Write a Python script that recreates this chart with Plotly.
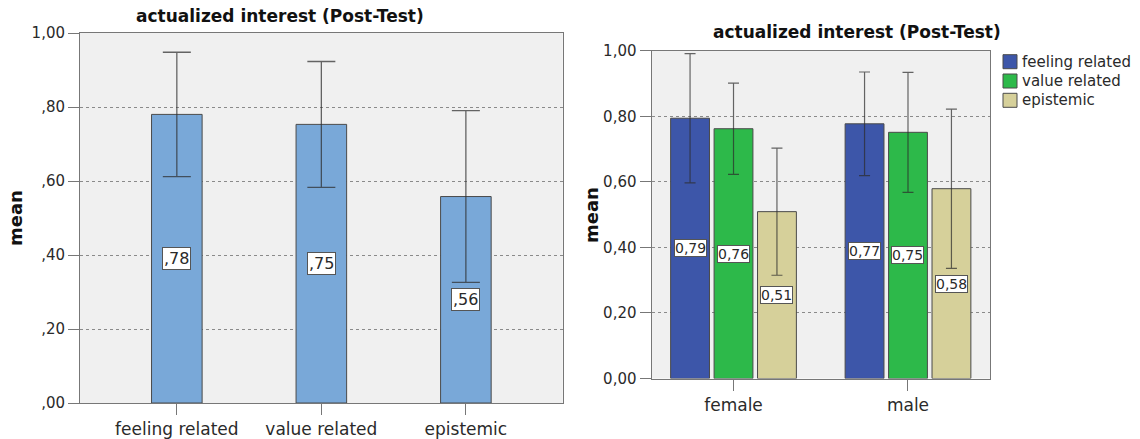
import plotly.graph_objects as go

W, H = 1140, 439

# ---------------- data ----------------
left_categories = ["feeling related", "value related", "epistemic"]
left_means = [0.78, 0.753, 0.558]
left_err = [0.168, 0.170, 0.232]
left_labels = [",78", ",75", ",56"]
left_ticktext = [",00", ",20", ",40", ",60", ",80", "1,00"]

right_groups = ["female", "male"]
right_series = ["feeling related", "value related", "epistemic"]
right_feeling = [0.794, 0.777]
right_value = [0.762, 0.751]
right_epistemic = [0.509, 0.579]
right_feeling_err = [0.197, 0.158]
right_value_err = [0.139, 0.183]
right_epistemic_err = [0.194, 0.243]
right_feeling_lbl = ["0,79", "0,77"]
right_value_lbl = ["0,76", "0,75"]
right_epistemic_lbl = ["0,51", "0,58"]
right_ticktext = ["0,00", "0,20", "0,40", "0,60", "0,80", "1,00"]
tickvals = [0, 0.2, 0.4, 0.6, 0.8, 1.0]

title_text = "actualized interest (Post-Test)"

# ---------------- style ----------------
FONT = "DejaVu Sans"
LEFT_COLOR = "#79A8D8"
SERIES_COLORS = ["#3D56A9", "#2DB94A", "#D6D09A"]
OUTLINE = "#4a4a4a"
ERR_COLOR = "rgba(45,45,45,0.72)"
BG = "#F0F0F0"
TEXT = "#2a2a2a"


def px(x):
    return x / W


def py(y):
    return 1 - y / H


fig = go.Figure()

fig.add_trace(go.Bar(
    x=left_categories, y=left_means, width=0.35,
    marker=dict(color=LEFT_COLOR, line=dict(color=OUTLINE, width=1)),
    error_y=dict(type="data", array=left_err, color=ERR_COLOR, thickness=1.3, width=14),
    xaxis="x", yaxis="y", showlegend=False, hoverinfo="skip",
))

right_vals = [right_feeling, right_value, right_epistemic]
right_errs = [right_feeling_err, right_value_err, right_epistemic_err]
right_lbls = [right_feeling_lbl, right_value_lbl, right_epistemic_lbl]
for name, vals, errs, col in zip(right_series, right_vals, right_errs, SERIES_COLORS):
    fig.add_trace(go.Bar(
        x=right_groups, y=vals, name=name,
        marker=dict(color=col, line=dict(color=OUTLINE, width=1)),
        error_y=dict(type="data", array=errs, color=ERR_COLOR, thickness=1.2, width=5.5),
        xaxis="x2", yaxis="y2", showlegend=False, hoverinfo="skip",
    ))

BARGAP = 0.253
GROUPGAP = 0.106
slot = (1 - BARGAP) / len(right_series)

annotations = []
# value labels (boxes at bar middle)
for i, (v, lbl) in enumerate(zip(left_means, left_labels)):
    annotations.append(dict(
        x=i, y=v / 2, xref="x", yref="y", text=lbl, showarrow=False,
        font=dict(family=FONT, size=16, color=TEXT),
        bgcolor="white", bordercolor="#555", borderwidth=1, borderpad=1,
    ))
for s, (vals, lbls) in enumerate(zip(right_vals, right_lbls)):
    for g, (v, lbl) in enumerate(zip(vals, lbls)):
        annotations.append(dict(
            x=g + (s - 1) * slot, y=v / 2, xref="x2", yref="y2", text=lbl,
            showarrow=False, font=dict(family=FONT, size=14, color=TEXT),
            bgcolor="white", bordercolor="#555", borderwidth=1, borderpad=0,
        ))

# titles
for cx, cy in [(279.5, 16), (856.8, 32)]:
    annotations.append(dict(
        x=px(cx), y=py(cy), xref="paper", yref="paper", text="<b>" + title_text + "</b>",
        showarrow=False, xanchor="center", yanchor="middle",
        font=dict(family=FONT, size=17, color="#111"),
    ))
for cx, cy in [(16, 218), (591, 215)]:
    annotations.append(dict(
        x=px(cx), y=py(cy), xref="paper", yref="paper", text="<b>mean</b>",
        showarrow=False, xanchor="center", yanchor="middle", textangle=-90,
        font=dict(family=FONT, size=18, color="#111"),
    ))

# manual legend
shapes = []
for k, (name, col) in enumerate(zip(right_series, SERIES_COLORS)):
    cy = 61.7 + k * 19.3
    shapes.append(dict(
        type="rect", xref="paper", yref="paper",
        x0=px(1003), x1=px(1017), y0=py(cy - 7), y1=py(cy + 7),
        fillcolor=col, line=dict(color=OUTLINE, width=1),
    ))
    annotations.append(dict(
        x=px(1019.5), y=py(cy), xref="paper", yref="paper", text=name,
        showarrow=False, xanchor="left", yanchor="middle",
        font=dict(family=FONT, size=15, color=TEXT),
    ))

axis_common = dict(showline=True, linecolor="#777", linewidth=1, mirror=True,
                   ticks="outside", tickcolor="#777", ticklen=11, zeroline=False,
                   fixedrange=True, automargin=False)

fig.update_layout(
    template="none",
    width=W, height=H,
    margin=dict(l=0, r=0, t=0, b=0, pad=0, autoexpand=False),
    paper_bgcolor="white",
    barmode="group", bargap=BARGAP, bargroupgap=GROUPGAP,
    font=dict(family=FONT, color=TEXT),
    showlegend=False,
    xaxis=dict(domain=[px(80), px(562.7)], anchor="y", range=[-0.67, 2.67],
               showgrid=False, tickfont=dict(size=17, color=TEXT), **axis_common),
    yaxis=dict(domain=[py(403), py(33)], anchor="x", range=[0, 1],
               tickvals=tickvals, ticktext=left_ticktext, tickfont=dict(size=15, color=TEXT),
               showgrid=True, gridcolor="#8a8a8a", griddash="3px,3px", gridwidth=1,
               **axis_common),
    xaxis2=dict(domain=[px(651.5), px(990)], anchor="y2", range=[-0.47, 1.47],
                showgrid=False, tickfont=dict(size=17, color=TEXT), **axis_common),
    yaxis2=dict(domain=[py(378.5), py(50.7)], anchor="x2", range=[0, 1],
                tickvals=tickvals, ticktext=right_ticktext, tickfont=dict(size=15, color=TEXT),
                showgrid=True, gridcolor="#8a8a8a", griddash="3px,3px", gridwidth=1,
                **axis_common),
    plot_bgcolor=BG,
    annotations=annotations,
    shapes=shapes,
)

fig.write_html(
    "out.html",
    config={"displayModeBar": False, "staticPlot": True},
    post_script="document.body.style.margin='0';document.body.style.padding='0';document.body.style.overflow='hidden';",
)
